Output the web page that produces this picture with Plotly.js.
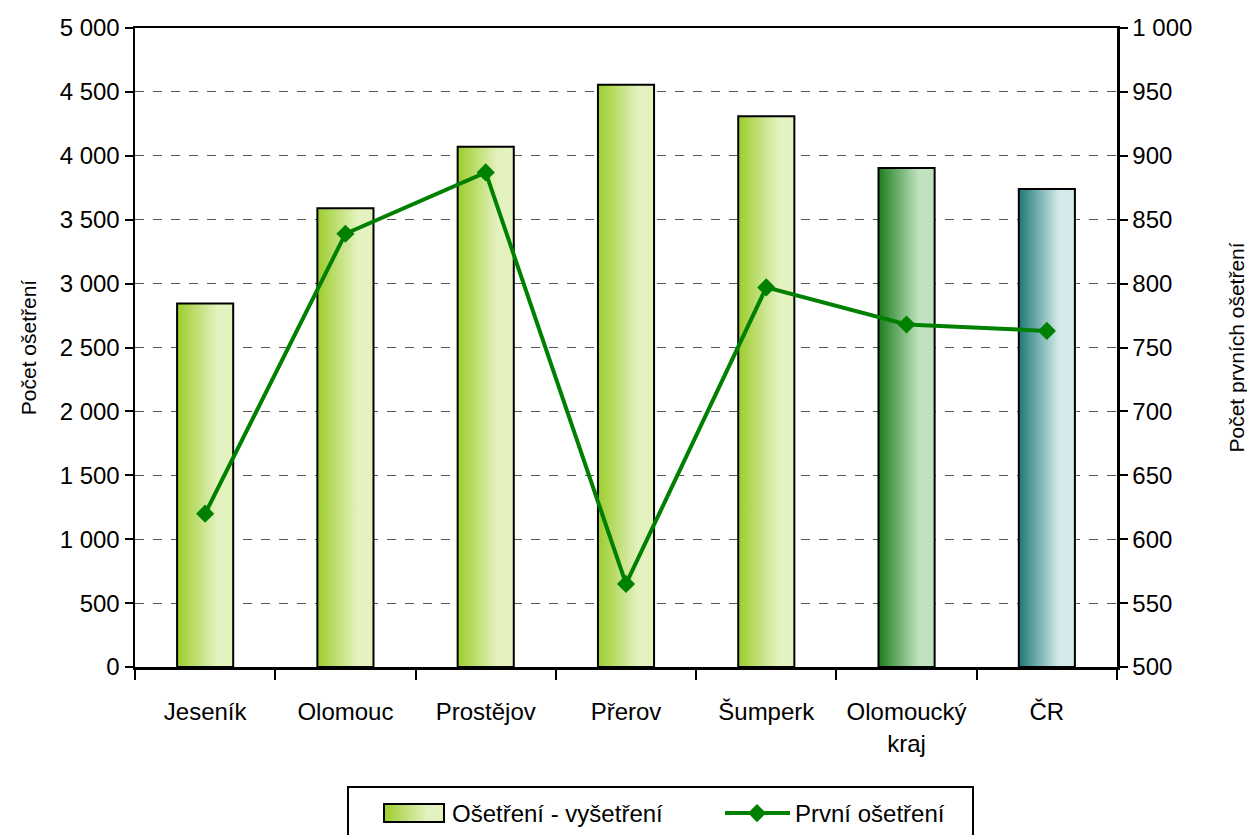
<!DOCTYPE html>
<html>
<head>
<meta charset="utf-8">
<script src="https://cdn.plot.ly/plotly-3.0.1.min.js"></script>
<style>
html,body{margin:0;padding:0;background:#fff;}
#chart{width:1247px;height:835px;}
</style>
</head>
<body>
<div id="chart"></div>
<script>
const categories = ["Jeseník", "Olomouc", "Prostějov", "Přerov", "Šumperk", "Olomoucký<br>kraj", "ČR"];
const osetreniVysetreni = [2845, 3590, 4070, 4555, 4310, 3905, 3740];
const prvniOsetreni = [620, 839, 887, 565, 797, 768, 763];
const barColorsDark = ["#9ccd2c", "#9ccd2c", "#9ccd2c", "#9ccd2c", "#9ccd2c", "#1c7d1c", "#1d7878"];
const barColorsLight = ["#e4f2c0", "#e4f2c0", "#e4f2c0", "#e4f2c0", "#e4f2c0", "#c0e2c0", "#d4eaea"];
const seriesNames = ["Ošetření - vyšetření", "První ošetření"];
const leftTicks = [0, 500, 1000, 1500, 2000, 2500, 3000, 3500, 4000, 4500, 5000];
const rightTicks = [500, 550, 600, 650, 700, 750, 800, 850, 900, 950, 1000];
const leftTitle = "Počet ošetření";
const rightTitle = "Počet prvních ošetření";

const FONT = "'Liberation Sans', Arial, sans-serif";

const traces = [
  {
    type: "bar",
    name: seriesNames[0],
    x: categories,
    y: osetreniVysetreni,
    width: 0.4,
    marker: {color: barColorsDark, line: {color: "#000", width: 2}},
    yaxis: "y"
  },
  {
    type: "scatter",
    mode: "lines+markers",
    name: seriesNames[1],
    x: categories,
    y: prvniOsetreni,
    yaxis: "y2",
    line: {color: "#008000", width: 4},
    marker: {symbol: "diamond", size: 14, color: "#008000"}
  }
];

const layout = {
  width: 1247,
  height: 835,
  margin: {l: 135, r: 130, t: 28, b: 168},
  paper_bgcolor: "#fff",
  plot_bgcolor: "#fff",
  font: {family: FONT, size: 24, color: "#000"},
  separators: ", ",
  showlegend: true,
  legend: {
    orientation: "h",
    x: (410 - 135) / 982, xanchor: "left",
    yref: "container",
    y: (835 - 789) / 835, yanchor: "top",
    bordercolor: "#000", borderwidth: 2,
    font: {family: FONT, size: 24, color: "#000"},
    entrywidth: 298,
    entrywidthmode: "pixels",
    tracegroupgap: 0
  },
  xaxis: {
    type: "category",
    showline: true, linecolor: "#000", linewidth: 2.5,
    mirror: true,
    ticks: "outside", tickson: "boundaries", ticklen: 10, tickwidth: 2, tickcolor: "#000",
    ticklabelstandoff: 22,
    showgrid: false,
    zeroline: false
  },
  yaxis: {
    range: [0, 5000],
    tickvals: leftTicks,
    tickformat: ",d",
    showline: true, linecolor: "#000", linewidth: 2.5,
    ticks: "outside", ticklen: 8, tickwidth: 2, tickcolor: "#000",
    showgrid: true, gridcolor: "#555", gridwidth: 1, griddash: "dash",
    zeroline: false,
    automargin: true,
    title: {text: leftTitle, font: {family: FONT, size: 21}, standoff: 18}
  },
  yaxis2: {
    overlaying: "y", side: "right",
    range: [500, 1000],
    tickvals: rightTicks,
    tickformat: ",d",
    showline: true, linecolor: "#000", linewidth: 2.5,
    ticks: "outside", ticklen: 8, tickwidth: 2, tickcolor: "#000",
    showgrid: false,
    zeroline: false,
    automargin: false
  },
  annotations: [
    {
      text: rightTitle,
      xref: "paper", yref: "paper",
      x: (1236 - 135) / 982, y: 0.5,
      xanchor: "center", yanchor: "middle",
      textangle: -90,
      showarrow: false,
      font: {family: FONT, size: 21, color: "#000"}
    }
  ]
};

function applyGradients(gd) {
  const svg = gd.querySelector(".main-svg");
  if (!svg) return;
  const ns = "http://www.w3.org/2000/svg";
  let defs = svg.querySelector("defs");
  if (!defs) { defs = document.createElementNS(ns, "defs"); svg.insertBefore(defs, svg.firstChild); }
  barColorsDark.forEach((dark, i) => {
    const id = "barGrad" + i;
    if (svg.querySelector("#" + id)) return;
    const lg = document.createElementNS(ns, "linearGradient");
    lg.setAttribute("id", id);
    lg.setAttribute("x1", "0"); lg.setAttribute("y1", "0");
    lg.setAttribute("x2", "1"); lg.setAttribute("y2", "0");
    [[0, dark], [0.72, barColorsLight[i]], [1, barColorsLight[i]]].forEach(([o, c]) => {
      const s = document.createElementNS(ns, "stop");
      s.setAttribute("offset", o);
      s.setAttribute("stop-color", c);
      lg.appendChild(s);
    });
    defs.appendChild(lg);
  });
  gd.querySelectorAll(".barlayer .trace .point path").forEach((p, i) => { p.style.fill = "url(#barGrad" + i + ")"; });

  const legend = gd.querySelector(".legend");
  if (legend) {
    const bg = legend.querySelector("rect.bg");
    if (bg) {
      const x = parseFloat(bg.getAttribute("x") || 0);
      const y = parseFloat(bg.getAttribute("y") || 0);
      const h = parseFloat(bg.getAttribute("height") || 0);
      bg.setAttribute("x", x - 63);
      bg.setAttribute("y", y - 3);
      bg.setAttribute("width", 625);
      bg.setAttribute("height", h + 30);
    }
    legend.querySelectorAll("[clip-path]").forEach(el => el.removeAttribute("clip-path"));
  }
  const legendTraces = gd.querySelectorAll(".legend .traces");
  if (legendTraces.length >= 2) {
    legendTraces[0].querySelectorAll(".legendpoints path").forEach(p => {
      p.setAttribute("d", "M-28,-9H32V9H-28Z");
      p.setAttribute("transform", "translate(0,0)");
      p.style.fill = "url(#barGrad0)";
      p.style.strokeWidth = "2px";
    });
    legendTraces[1].querySelectorAll("path.js-line").forEach(p => p.setAttribute("d", "M-30,0h65"));
    legendTraces[1].querySelectorAll("path.scatterpts").forEach(p => p.setAttribute("transform", "translate(2,0)"));
  }
}

Plotly.newPlot("chart", traces, layout, {staticPlot: true}).then(gd => applyGradients(gd));
</script>
</body>
</html>
